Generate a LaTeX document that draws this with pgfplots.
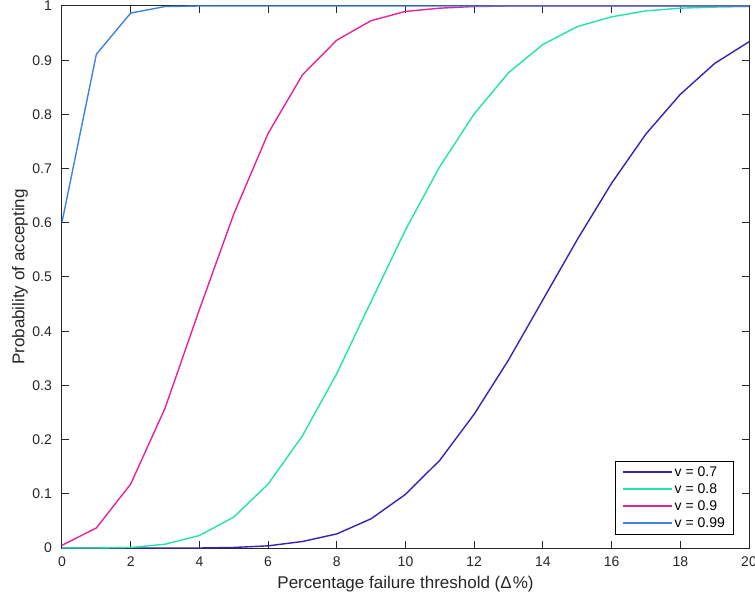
\documentclass[border=0pt]{standalone}
\usepackage{fontspec}
\setmainfont{Liberation Sans}
\usepackage{pgfplots}
\pgfplotsset{compat=1.18}

\definecolor{axgray}{HTML}{262626}
\definecolor{cseven}{HTML}{3623B5}
\definecolor{ceight}{HTML}{22E6A0}
\definecolor{cnine}{HTML}{E8239A}
\definecolor{cnn}{HTML}{3F82E0}

\begin{document}
\begin{tikzpicture}
\path[use as bounding box] (0pt,0pt) rectangle (755pt,603pt);
\begin{axis}[
  at={(62pt,55pt)}, anchor=south west,
  scale only axis, width=687pt, height=542pt,
  xmin=0, xmax=20, ymin=0, ymax=1,
  clip=false,
  xtick={0,2,4,6,8,10,12,14,16,18,20},
  xticklabels={0,2,4,6,8,10,12,14,16,18,20},
  ytick={0,0.1,0.2,0.3,0.4,0.5,0.6,0.7,0.8,0.9,1},
  yticklabels={0,0.1,0.2,0.3,0.4,0.5,0.6,0.7,0.8,0.9,1},
  tick align=inside,
  major tick length=7pt,
  axis line style={line width=1pt, axgray},
  every tick/.style={line width=1pt, axgray},
  tick label style={font=\fontsize{14}{16}\selectfont, text=axgray},
  xticklabel style={anchor=north, inner sep=0pt, yshift=-9pt},
  yticklabel style={anchor=east, inner sep=0pt, xshift=-10pt},
  xlabel={Percentage failure threshold (Δ\kern1pt\%)},
  ylabel={Probability of accepting},
  label style={font=\fontsize{17}{19}\selectfont, text=axgray},
  xlabel style={at={(axis description cs:0.5,-0.0738)}, anchor=base},
  ylabel style={at={(axis description cs:-0.0611,0.5)}, anchor=center},
  legend style={at={(0.978,0.024)}, anchor=south east,
    draw=black, line width=1pt, inner xsep=6.5pt, inner ysep=2.5pt,
    font=\fontsize{14}{16}\selectfont,
    nodes={inner ysep=1.5pt, inner xsep=2pt, text height=11pt, text depth=3pt},
    row sep=0pt},
  legend cell align=left,
  legend image code/.code={\draw[#1, line width=2pt] (0pt,0pt) -- (49pt,0pt);},
  every axis plot/.append style={line width=1.4pt},
]
\addplot[cseven] coordinates {
 (0,0) (1,0) (2,0) (3,0) (4,0) (5,0.001) (6,0.004) (7,0.012) (8,0.026)
 (9,0.054) (10,0.099) (11,0.162) (12,0.247) (13,0.347) (14,0.458)
 (15,0.569) (16,0.673) (17,0.764) (18,0.837) (19,0.894) (20,0.934)};
\addlegendentry{v = 0.7}
\addplot[ceight] coordinates {
 (0,0) (1,0) (2,0.001) (3,0.007) (4,0.023) (5,0.057) (6,0.118) (7,0.207)
 (8,0.322) (9,0.455) (10,0.587) (11,0.704) (12,0.801) (13,0.877)
 (14,0.929) (15,0.962) (16,0.980) (17,0.991) (18,0.996) (19,0.998) (20,0.999)};
\addlegendentry{v = 0.8}
\addplot[cnine] coordinates {
 (0,0.005) (1,0.037) (2,0.118) (3,0.258) (4,0.44) (5,0.616) (6,0.765)
 (7,0.873) (8,0.937) (9,0.973) (10,0.990) (11,0.996) (12,0.999) (13,1)
 (14,1) (15,1) (16,1) (17,1) (18,1) (19,1) (20,1)};
\addlegendentry{v = 0.9}
\addplot[cnn] coordinates {
 (0,0.601) (1,0.911) (2,0.987) (3,0.999) (4,1) (5,1) (6,1) (7,1) (8,1)
 (9,1) (10,1) (11,1) (12,1) (13,1) (14,1) (15,1) (16,1) (17,1) (18,1)
 (19,1) (20,1)};
\addlegendentry{v = 0.99}
\end{axis}
\end{tikzpicture}
\end{document}
